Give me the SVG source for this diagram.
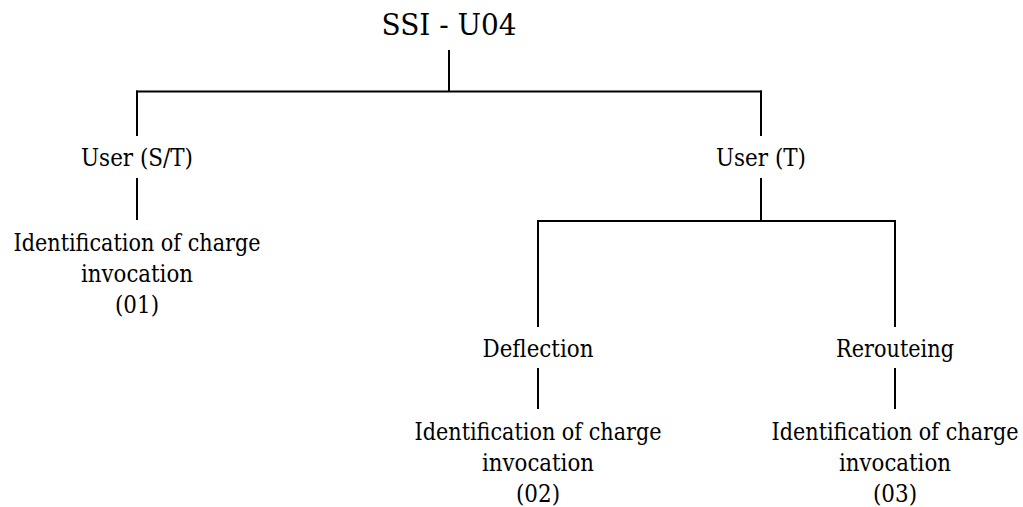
<svg xmlns="http://www.w3.org/2000/svg" width="1023" height="507" viewBox="0 0 1023 507">
<style>
text{font-family:'DejaVu Serif','Liberation Serif',serif;fill:#000;text-anchor:middle;font-size:24px}
.title{font-size:29.5px}
.c line{stroke:#000;stroke-width:2;fill:none}
</style>
<rect width="1023" height="507" fill="#fff"/>
<g class="c" id="connectors">
<line x1="449" y1="50" x2="449" y2="91.5"/>
<line x1="136" y1="91.5" x2="762" y2="91.5"/>
<line x1="137" y1="90.5" x2="137" y2="136"/>
<line x1="761" y1="90.5" x2="761" y2="136"/>
<line x1="137" y1="178" x2="137" y2="220"/>
<line x1="761" y1="178" x2="761" y2="221"/>
<line x1="537" y1="221" x2="896" y2="221"/>
<line x1="538" y1="220" x2="538" y2="327"/>
<line x1="895" y1="220" x2="895" y2="327"/>
<line x1="538" y1="368" x2="538" y2="409"/>
<line x1="895" y1="368" x2="895" y2="409"/>
</g>
<g id="root"><text class="title" x="449" y="35" textLength="135" lengthAdjust="spacingAndGlyphs">SSI - U04</text></g>
<g id="user-st"><text x="137" y="166" textLength="112" lengthAdjust="spacingAndGlyphs">User (S/T)</text></g>
<g id="user-t"><text x="761" y="166" textLength="90" lengthAdjust="spacingAndGlyphs">User (T)</text></g>
<g id="leaf01"><text x="137" y="251" textLength="247" lengthAdjust="spacingAndGlyphs">Identification of charge</text><text x="137" y="282" textLength="112" lengthAdjust="spacingAndGlyphs">invocation</text><text x="137" y="313" textLength="44" lengthAdjust="spacingAndGlyphs">(01)</text></g>
<g id="deflection"><text x="538" y="357" textLength="111" lengthAdjust="spacingAndGlyphs">Deflection</text></g>
<g id="rerouteing"><text x="895" y="357" textLength="118" lengthAdjust="spacingAndGlyphs">Rerouteing</text></g>
<g id="leaf02"><text x="538" y="440" textLength="247" lengthAdjust="spacingAndGlyphs">Identification of charge</text><text x="538" y="471" textLength="112" lengthAdjust="spacingAndGlyphs">invocation</text><text x="538" y="502" textLength="44" lengthAdjust="spacingAndGlyphs">(02)</text></g>
<g id="leaf03"><text x="895" y="440" textLength="247" lengthAdjust="spacingAndGlyphs">Identification of charge</text><text x="895" y="471" textLength="112" lengthAdjust="spacingAndGlyphs">invocation</text><text x="895" y="502" textLength="44" lengthAdjust="spacingAndGlyphs">(03)</text></g>
</svg>
